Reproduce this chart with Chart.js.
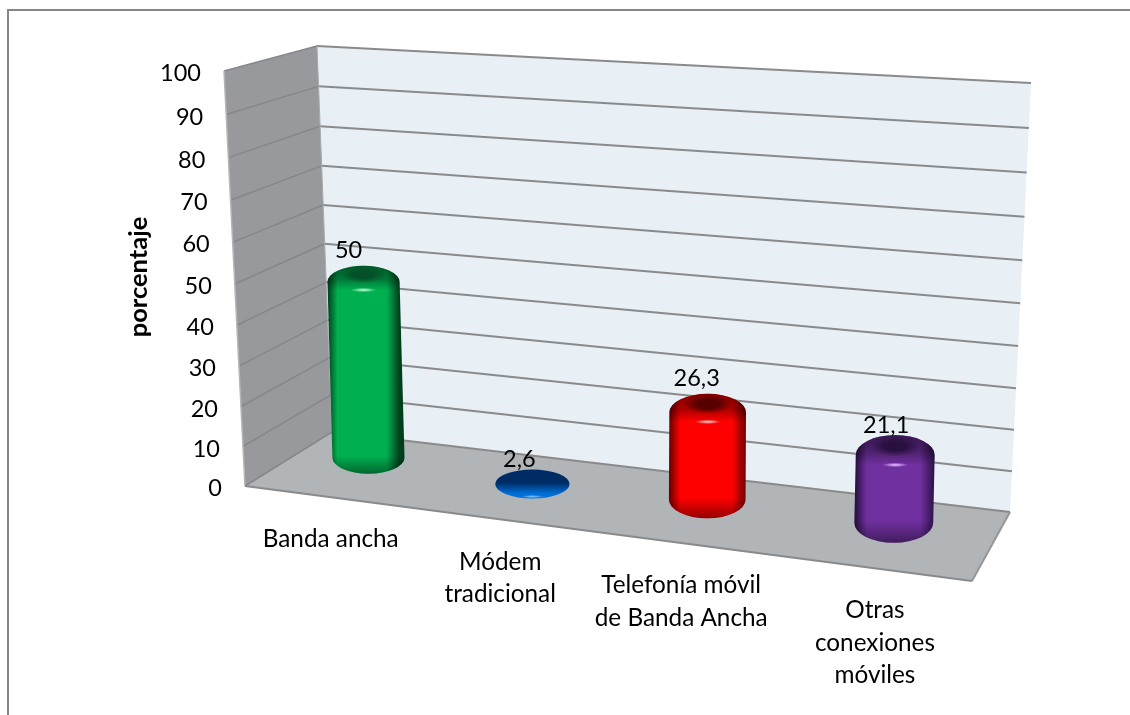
<!DOCTYPE html>
<html>
<head>
<meta charset="utf-8">
<style>
  html, body { margin: 0; background: #fff; overflow: hidden; }
  canvas { display: block; }
</style>
</head>
<body>
<canvas id="chart" width="1130" height="715"></canvas>
<script src="https://cdn.jsdelivr.net/npm/chart.js@4"></script>
<script>
const categories = [
  ['Banda ancha'],
  ['Módem', 'tradicional'],
  ['Telefonía móvil', 'de Banda Ancha'],
  ['Otras', 'conexiones', 'móviles']
];
const values = [50, 2.6, 26.3, 21.1];
const valueLabels = ['50', '2,6', '26,3', '21,1'];
const yMax = 100;
const yStep = 10;
const yTitle = 'porcentaje';

const barColors = ['#00b050', '#0070d8', '#ff0000', '#7030a0'];
const barEdges = ['#003f1c', '#00306e', '#6a0000', '#2c1046'];
const barCaps = ['#04502a', '#002c66', '#560000', '#2a1040'];
const barLights = ['#9df5bd', '#6db8ff', '#ffb3b3', '#d9a6f5'];

const FONT = 'Lato, Carlito, sans-serif';

// maps the unit square onto a four sided shape, so the walls and floor get perspective
function quadMap(p0, p1, p2, p3) {
  const dx1 = p1[0] - p2[0], dx2 = p3[0] - p2[0], dx3 = p0[0] - p1[0] + p2[0] - p3[0];
  const dy1 = p1[1] - p2[1], dy2 = p3[1] - p2[1], dy3 = p0[1] - p1[1] + p2[1] - p3[1];
  const den = dx1 * dy2 - dx2 * dy1;
  const g = (dx3 * dy2 - dx2 * dy3) / den;
  const h = (dx1 * dy3 - dx3 * dy1) / den;
  const a = p1[0] - p0[0] + g * p1[0], b = p3[0] - p0[0] + h * p3[0];
  const d = p1[1] - p0[1] + g * p1[1], e = p3[1] - p0[1] + h * p3[1];
  return function(s, t) {
    const w = g * s + h * t + 1;
    return [(a * s + b * t + p0[0]) / w, (d * s + e * t + p0[1]) / w];
  };
}

// box corners on the page
const frontBottomLeft = [245, 486];
const frontTopLeft = [224, 71];
const backBottomLeft = [332, 432];
const backTopLeft = [317, 46];
const backBottomRight = [1010, 512];
const backTopRight = [1031, 83];
const frontBottomRight = [972, 581];

const floorAt = quadMap(frontBottomLeft, frontBottomRight, backBottomRight, backBottomLeft); // (u, depth)
const backWallAt = quadMap(backBottomLeft, backBottomRight, backTopRight, backTopLeft);      // (u, value)
const sideWallAt = quadMap(frontBottomLeft, backBottomLeft, backTopLeft, frontTopLeft);      // (depth, value)

function polygon(ctx, pts, fill) {
  ctx.beginPath();
  pts.forEach(function(p, i) {
    if (i === 0) ctx.moveTo(p[0], p[1]); else ctx.lineTo(p[0], p[1]);
  });
  ctx.closePath();
  ctx.fillStyle = fill;
  ctx.fill();
}

function line(ctx, a, b, color, width) {
  ctx.beginPath();
  ctx.moveTo(a[0], a[1]);
  ctx.lineTo(b[0], b[1]);
  ctx.strokeStyle = color;
  ctx.lineWidth = width;
  ctx.stroke();
}

function drawBox(chart) {
  const ctx = chart.ctx;
  const y = chart.scales.y;

  polygon(ctx, [backBottomLeft, backBottomRight, backTopRight, backTopLeft], '#e8eff5');
  polygon(ctx, [frontBottomLeft, backBottomLeft, backTopLeft, frontTopLeft], '#97999c');
  polygon(ctx, [frontBottomLeft, frontBottomRight, backBottomRight, backBottomLeft], '#b1b5b8');

  // gridlines on both walls, one per tick
  y.ticks.forEach(function(tick) {
    const v = tick.value / yMax;
    line(ctx, backWallAt(0, v), backWallAt(1, v), '#8a8a8a', 2);
    line(ctx, sideWallAt(0, v), sideWallAt(1, v), '#85878a', 1.5);
  });
  line(ctx, frontTopLeft, frontBottomLeft, '#b4b5b7', 1.5);
  line(ctx, backTopLeft, backBottomLeft, '#a9abae', 1);
  line(ctx, frontBottomLeft, frontBottomRight, '#8a8a8a', 2);
  line(ctx, frontBottomRight, backBottomRight, '#969696', 2);
}

function softSpot(ctx, x, y, rx, ry, color, solid) {
  const glow = ctx.createRadialGradient(0, 0, 0, 0, 0, 1);
  glow.addColorStop(0, color);
  glow.addColorStop(solid, color);
  glow.addColorStop(1, color + '00');
  ctx.save();
  ctx.translate(x, y);
  ctx.scale(rx, ry);
  ctx.beginPath();
  ctx.arc(0, 0, 1, 0, Math.PI * 2);
  ctx.fillStyle = glow;
  ctx.fill();
  ctx.restore();
}

function drawCylinder(ctx, i, el, area) {
  const u = (el.x - area.left) / area.width;
  const fullHeight = area.height / yMax;
  const valueOnAxis = (area.bottom - el.y) / fullHeight;
  const base = floorAt(u, 0.5);
  const scale = 0.847 - (u - 0.125) * 0.096;
  const h = valueOnAxis * fullHeight * scale;
  const rx = 35.5 + u * 4.5;
  const ry = 15.5 + u * 5;
  const bx = base[0];
  const by = base[1] - 10;
  const tx = bx + h * (u - 0.55) * 0.066;
  const ty = by - h;

  // very short bars collapse to a flat disc lying on the floor
  if (h < ry) {
    const cy = by + 6;
    const disc = ctx.createLinearGradient(0, cy - 14, 0, cy + 14);
    disc.addColorStop(0, barCaps[i]);
    disc.addColorStop(0.45, barCaps[i]);
    disc.addColorStop(0.85, barColors[i]);
    disc.addColorStop(1, barColors[i]);
    ctx.beginPath();
    ctx.ellipse(tx, cy, rx, 14.5, 0, 0, Math.PI * 2);
    ctx.fillStyle = disc;
    ctx.fill();
    softSpot(ctx, tx, cy + 12.5, 12, 1.6, barLights[i], 0.2);
    return { x: tx, y: cy - 10, u: u };
  }

  // body with the shading running across the width
  const across = ctx.createLinearGradient(tx - rx, 0, tx + rx, 0);
  across.addColorStop(0, barEdges[i]);
  across.addColorStop(0.14, barColors[i]);
  across.addColorStop(0.82, barColors[i]);
  across.addColorStop(1, barEdges[i]);
  ctx.beginPath();
  ctx.moveTo(tx - rx, ty);
  ctx.lineTo(bx - rx, by);
  ctx.ellipse(bx, by, rx, ry, 0, Math.PI, 0, true);
  ctx.lineTo(tx + rx, ty);
  ctx.ellipse(tx, ty, rx, ry, 0, 0, Math.PI, true);
  ctx.closePath();
  ctx.fillStyle = across;
  ctx.fill();

  ctx.save();
  ctx.clip();

  // rounded bevel at the bottom
  const bottom = ctx.createLinearGradient(0, by - 2, 0, by + ry);
  bottom.addColorStop(0, 'rgba(0,0,0,0)');
  bottom.addColorStop(1, 'rgba(0,0,0,0.42)');
  ctx.fillStyle = bottom;
  ctx.fillRect(bx - rx - 2, by - 2, rx * 2 + 4, ry + 4);

  // top cap fades from dark at the rear into the body at the front
  const bevel = ctx.createLinearGradient(0, ty - ry, 0, ty + ry * 0.5);
  bevel.addColorStop(0, 'rgba(0,0,0,0.5)');
  bevel.addColorStop(0.55, 'rgba(0,0,0,0.32)');
  bevel.addColorStop(1, 'rgba(0,0,0,0)');
  ctx.fillStyle = bevel;
  ctx.fillRect(tx - rx - 2, ty - ry - 1, rx * 2 + 4, ry * 1.5 + 1);
  ctx.restore();

  // dark hollow towards the rear of the cap, then the small highlight on the front
  softSpot(ctx, tx, ty - ry * 0.45, rx * 0.62, ry * 0.52, barCaps[i], 0.45);
  softSpot(ctx, tx, ty + ry * 0.5, 13, 2.2, barLights[i], 0.2);

  return { x: tx, y: h < 80 ? ty - ry + 5 : ty - ry, u: u };
}

const box3d = {
  id: 'box3d',
  beforeDraw: function(chart) {
    const ctx = chart.ctx;
    ctx.fillStyle = '#fff';
    ctx.fillRect(0, 0, chart.width, chart.height);
    // outer chart border, the right and bottom sides fall outside the picture
    line(ctx, [8, 715], [8, 10], '#868686', 2);
    line(ctx, [7, 10], [1130, 10], '#868686', 2);
  },
  beforeDatasetsDraw: function(chart) {
    drawBox(chart);
  },
  // the cylinders replace the flat rectangles
  beforeDatasetDraw: function() {
    return false;
  },
  afterDatasetsDraw: function(chart) {
    const ctx = chart.ctx;
    const area = chart.chartArea;
    const tops = chart.getDatasetMeta(0).data.map(function(el, i) {
      return drawCylinder(ctx, i, el, area);
    });

    ctx.fillStyle = '#000';
    ctx.font = '23.5px ' + FONT;
    ctx.textBaseline = 'middle';

    // value labels
    ctx.textAlign = 'center';
    tops.forEach(function(top, i) {
      ctx.fillText(valueLabels[i], top.x - 16 + top.u * 8, top.y - 15);
    });

    // y ticks follow the slanted front edge of the side wall
    ctx.textAlign = 'right';
    chart.scales.y.ticks.forEach(function(tick) {
      const p = sideWallAt(0, tick.value / yMax);
      ctx.fillText(String(tick.value), p[0] - 23, p[1] + 2.5);
    });

    // category labels hang under the front edge of the floor
    ctx.textAlign = 'center';
    ctx.font = '24.3px ' + FONT;
    const x = chart.scales.x;
    categories.forEach(function(lines, i) {
      const p = floorAt((x.getPixelForValue(i) - area.left) / area.width, 0);
      lines.forEach(function(text, n) {
        ctx.fillText(text, p[0] + 5, p[1] + 43 + n * 32.5);
      });
    });

    // y axis title
    ctx.save();
    ctx.translate(139, 277);
    ctx.rotate(-Math.PI / 2);
    ctx.font = 'bold 25.5px ' + FONT;
    ctx.fillText(yTitle, 0, 0);
    ctx.restore();
  }
};

new Chart(document.getElementById('chart'), {
  type: 'bar',
  data: {
    labels: categories,
    datasets: [{
      label: yTitle,
      data: values,
      backgroundColor: barColors
    }]
  },
  options: {
    responsive: false,
    animation: false,
    events: [],
    layout: {
      padding: { left: 245, right: 1130 - 972, top: 71, bottom: 715 - 486 }
    },
    plugins: {
      legend: { display: false },
      tooltip: { enabled: false }
    },
    scales: {
      x: { display: false },
      y: { display: false, min: 0, max: yMax, ticks: { stepSize: yStep } }
    }
  },
  plugins: [box3d]
});
</script>
</body>
</html>
